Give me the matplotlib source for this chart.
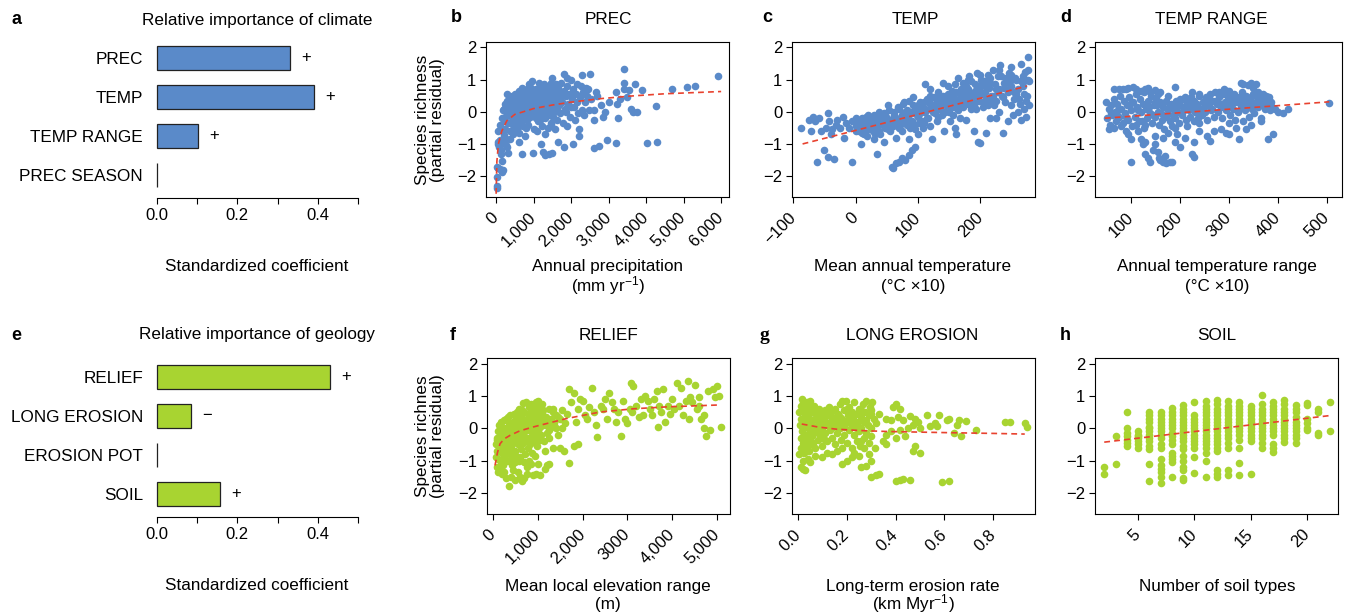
import matplotlib
matplotlib.use("Agg")
import matplotlib.pyplot as plt

# ------------------------------------------------------------
# data
# ------------------------------------------------------------
climate_vars = ["PREC", "TEMP", "TEMP RANGE", "PREC SEASON"]
climate_coef = [0.33, 0.39, 0.102, 0.0]
climate_sign = ["+", "+", "+", ""]

geology_vars = ["RELIEF", "LONG EROSION", "EROSION POT", "SOIL"]
geology_coef = [0.43, 0.084, 0.0, 0.157]
geology_sign = ["+", "\u2212", "", "+"]

# b: annual precipitation (mm/yr) vs partial residual
prec_pts = [
    (10, -2.38), (15, -2.3), (25, -2.02), (20, -1.72), (60, -1.74), (110, -1.78), (160, -1.86), (190, -1.8),
    (40, -1.0), (60, -0.93), (85, -1.08), (50, -0.6), (95, -0.88), (125, -1.3), (150, -1.52), (135, -1.2),
    (200, -0.98), (250, -1.02), (300, -1.08), (320, -1.27), (265, -0.85), (110, -0.42), (150, -0.2), (180, -0.52),
    (205, -0.72), (235, -0.3), (260, -0.12), (200, 0.1), (230, 0.25), (270, 0.15), (300, 0.32), (170, 0.05),
    (320, -0.35), (340, 0.05), (360, 0.2), (370, -0.6), (400, 0.35), (410, -0.15), (430, 0.1), (440, -0.4),
    (460, 0.25), (470, -0.05), (490, 0.4), (500, -0.3), (520, 0.15), (530, -0.5), (540, 0.3), (560, 0.0),
    (580, 0.45), (590, -0.2), (600, 0.2), (610, -0.65), (620, -0.95), (680, -1.32), (630, 0.35), (640, 0.05),
    (660, -0.3), (670, 0.55), (690, 0.15), (700, -0.1), (710, 0.4), (720, -0.45), (740, 0.25), (750, 0.6),
    (760, -0.05), (770, -0.75), (790, 0.45), (800, 0.1), (810, -0.25), (820, 0.7), (840, 0.3), (850, -0.4),
    (860, 0.55), (870, 0.0), (890, 0.2), (900, -0.15), (910, 0.45), (920, 0.75), (940, 0.05), (950, 0.35),
    (960, 0.95), (970, 0.6), (980, -1.27), (990, 0.25), (1000, -0.05), (1010, 0.5), (1020, -0.55), (1040, 0.15),
    (1050, 0.7), (1060, -0.2), (1070, 0.4), (1090, 0.0), (1100, 0.3), (1110, 0.55), (1120, -0.3), (1140, 0.2),
    (1150, 0.45), (1160, -0.1), (1170, 0.8), (1190, 0.1), (1200, -1.0), (1200, 0.35), (1210, -0.45), (1220, 0.6),
    (1240, 0.25), (1250, -1.25), (1250, -0.05), (1260, 0.5), (1270, 0.85), (1290, 0.15), (1300, -1.33), (1300, 0.4),
    (1310, -0.2), (1320, 0.65), (1340, 0.3), (1350, 0.0), (1360, 0.55), (1370, -0.5), (1390, 0.2), (1400, -1.3),
    (1400, 0.75), (1410, -0.1), (1420, 0.45), (1440, 0.35), (1450, 0.9), (1460, 0.05), (1470, -0.35), (1480, 1.05),
    (1490, 0.6), (1500, -1.28), (1500, 0.25), (1510, -0.15), (1520, 0.8), (1540, 0.4), (1550, 0.0), (1560, 0.65),
    (1570, -0.55), (1590, 0.3), (1600, 0.85), (1610, 0.1), (1620, -0.25), (1640, 0.5), (1650, -0.95), (1660, 0.75),
    (1680, 0.2), (1700, -0.05), (1720, 0.45), (1740, 0.9), (1760, 0.3), (1780, -0.35), (1800, 0.65), (1800, -1.1),
    (1820, 1.18), (1840, 0.1), (1860, 0.5), (1880, -0.45), (1900, 0.8), (1920, 0.25), (1950, 0.55), (1980, -0.15),
    (2000, 1.0), (2020, 0.4), (2050, -1.0), (2050, 0.7), (2080, 0.15), (2100, -0.25), (2120, 0.55), (2150, 0.85),
    (2170, -0.05), (2200, -0.55), (2210, -0.75), (2230, 0.45), (2250, 0.8), (2280, 0.05), (2300, 1.15), (2320, 0.6),
    (2350, -0.1), (2380, 0.3), (2400, 0.75), (2420, 0.5), (2450, 0.7), (2480, 0.05), (2500, 1.17), (2520, 0.4),
    (2600, -1.13), (2600, -0.25), (2620, 0.05), (2650, 0.6), (2700, 0.5), (2750, -1.05), (2800, 0.2), (2850, -0.15),
    (2900, 0.0), (2950, -0.88), (3000, 0.3), (3200, -0.98), (3200, 0.6), (3220, 0.25), (3260, -0.2), (3300, 0.4),
    (3400, 1.32), (3400, 0.88), (3420, 0.7), (3500, 0.45), (3550, 0.68), (3600, 0.1), (3650, 0.0), (3700, 0.85),
    (3750, 0.0), (3900, 0.67), (4030, -0.96), (4250, 0.18), (4300, -0.94), (4700, 0.72), (5100, 0.78), (5300, 0.8),
    (5920, 1.12), (420, 0.5), (550, 0.55), (880, 0.85), (1130, 0.9), (700, 0.75), (380, -0.85), (450, -0.7),
    (230, -0.55), (280, 0.05), (330, -0.05), (350, 0.4), (390, 0.0), (420, -0.3), (480, 0.15), (510, 0.55),
    (570, 0.25), (600, -0.45), (650, 0.5), (680, 0.2), (730, 0.05), (780, 0.35), (830, -0.15), (880, 0.5),
    (930, 0.2), (980, 0.45), (1030, 0.05), (1080, 0.25), (1130, 0.45), (1180, -0.25), (1230, 0.15), (1280, 0.6),
    (1330, 0.1), (1380, 0.35), (1430, 0.6), (1480, 0.15), (1530, 0.45), (1580, 0.1), (1630, 0.35), (1690, 0.55),
    (300, 0.55), (600, 0.65), (900, 0.6), (1200, 0.7), (500, -0.6), (800, -0.5), (1100, -0.6), (1300, -0.7),
    (1450, -0.4), (1700, 0.35), (1850, 0.0), (2000, 0.15), (2150, 0.3), (1900, 1.05), (1750, 0.6),
]
prec_fit_x = [0, 20, 60, 150, 285, 500, 1000, 1500, 2000, 2800, 3600, 4500, 6000]
prec_fit_y = [-2.55, -1.55, -1.0, -0.6, -0.28, -0.08, 0.1, 0.21, 0.3, 0.41, 0.49, 0.56, 0.63]

# c: mean annual temperature (degC x10)
temp_pts = [
    (-88, -0.5), (-75, -0.25), (-72, -0.6), (-68, -0.15), (-65, -0.3), (-62, -1.55), (-58, -0.2), (-55, -0.6),
    (-50, -1.2), (-48, -0.5), (-45, -0.05), (-44, -1.4), (-42, -0.3), (-40, -0.7), (-38, -0.55), (-35, -1.48),
    (-32, -0.4), (-30, -0.25), (-25, -0.5), (-20, -0.15), (-18, -0.8), (-15, -0.35), (-10, -0.5), (-5, -1.55),
    (-5, -0.3), (0, -0.2), (0, -0.6), (5, -0.4), (8, -1.0), (10, -0.2), (12, -0.55), (15, -0.35), (18, -0.75),
    (20, -0.1), (22, -0.45), (25, -0.25), (28, -0.6), (30, -0.85), (32, -0.15), (34, -1.3), (35, -0.4), (38, 0.0),
    (40, -0.7), (42, -0.3), (45, -0.95), (48, -0.5), (50, -0.2), (52, 0.2), (55, -0.6), (58, -0.35), (58, -1.72),
    (60, -1.75), (62, -0.1), (65, -0.8), (65, -1.6), (68, -0.45), (70, 0.1), (70, -1.55), (72, -0.25), (75, -0.6),
    (75, -1.45), (78, 0.3), (80, -0.15), (80, -1.5), (82, -0.4), (85, -0.85), (85, -1.35), (88, 0.0), (90, -0.3),
    (90, -1.2), (92, 0.45), (95, -0.55), (95, -1.1), (98, -0.1), (100, 0.2), (100, -0.7), (102, -0.35), (105, 0.0),
    (108, -0.5), (110, 0.3), (112, 0.85), (115, -0.2), (118, 0.1), (120, -0.45), (120, 0.5), (122, -0.85), (125, 0.0),
    (128, 0.25), (130, -0.3), (132, 0.6), (135, 0.1), (138, -0.1), (140, 0.35), (142, -0.6), (145, 0.2), (148, 0.8),
    (150, 0.0), (150, 0.45), (152, -0.3), (155, 0.65), (158, 0.15), (160, -0.5), (160, 0.4), (162, -0.7), (165, 1.05),
    (165, 0.2), (168, -0.2), (170, 0.55), (172, 0.9), (175, 0.3), (178, -0.25), (180, 0.7), (182, 1.1), (185, 0.1),
    (188, 0.5), (190, -0.6), (192, 0.85), (195, 1.2), (196, -0.95), (198, 0.35), (200, -0.97), (200, 0.6), (202, 1.0),
    (205, 0.15), (208, 0.8), (210, -0.65), (210, 0.4), (212, 1.15), (215, 0.9), (215, -0.2), (218, 0.5), (220, 1.3),
    (222, 0.2), (225, 0.7), (226, -0.2), (228, 1.1), (230, 0.0), (232, 1.45), (235, 0.5), (236, -0.65), (238, 0.9),
    (240, 0.3), (242, 1.05), (245, -0.3), (248, 0.75), (250, 0.2), (250, 1.15), (252, -0.1), (255, 0.6), (258, 1.0),
    (260, 0.0), (262, 0.4), (265, 1.5), (266, -0.25), (268, 0.8), (270, 0.1), (272, 1.0), (273, -0.15), (275, 0.5),
    (276, 1.7), (277, 1.3), (278, 0.95),
    (0, -0.45), (4, -0.3), (6, -0.6), (10, -0.5), (12, -0.25), (14, -0.7), (18, -0.4), (20, -0.55), (22, -0.2),
    (26, -0.35), (28, -0.5), (30, -0.1), (34, -0.45), (36, -0.25), (38, -0.6), (42, -0.15), (44, -0.4), (46, -0.05),
    (50, -0.35), (52, -0.55), (54, 0.05), (58, -0.25), (60, -0.45), (62, 0.0), (66, -0.3), (68, 0.15), (70, -0.5),
    (74, -0.1), (76, 0.25), (78, -0.35), (82, 0.05), (84, -0.2), (86, 0.35), (90, -0.05), (92, 0.2), (94, -0.4),
    (98, 0.1), (100, -0.15), (104, 0.3), (106, -0.3), (108, 0.15), (112, 0.0), (114, 0.4), (116, -0.2), (120, 0.25),
    (124, 0.05), (126, 0.45), (130, 0.1), (132, -0.15), (134, 0.35), (138, 0.2), (140, 0.5), (144, 0.0), (146, 0.3),
    (148, 0.55), (152, 0.15), (154, 0.4), (156, -0.1), (160, 0.25), (162, 0.6), (164, 0.05), (168, 0.35), (170, 0.7),
    (172, 0.15), (176, 0.45), (178, 0.8), (180, 0.25), (184, 0.55), (186, 0.95), (188, 0.3), (192, 0.65), (194, 0.1),
    (196, 0.45), (200, 0.8), (204, 0.3), (206, 0.95), (208, 0.6), (212, 0.2), (214, 0.75), (216, 1.05), (220, 0.5),
    (224, 0.85), (226, 0.35), (230, 0.7), (234, 1.1), (236, 0.45), (240, 0.9), (244, 0.6), (246, 1.2), (250, 0.8),
    (254, 0.4), (256, 1.05), (260, 0.7), (264, 0.25), (266, 0.95), (270, 0.55), (272, 1.25), (274, 0.35), (276, 1.0),
    (10, -0.65), (16, -0.15), (24, -0.45), (32, -0.7), (40, -0.3), (48, -0.1), (56, -0.55), (64, -0.15), (72, -0.4),
    (80, 0.0), (88, -0.5), (96, 0.05), (104, -0.05), (110, -0.35), (118, 0.35), (122, 0.15), (128, -0.05),
    (136, 0.5), (142, 0.25), (150, 0.3), (158, 0.55), (166, 0.4), (174, 0.6), (182, 0.45), (190, 0.2), (198, 0.7),
    (204, 0.55), (210, 0.95), (218, 0.35), (228, 0.6), (238, 0.75), (248, 0.95), (258, 0.55), (268, 1.1), (278, 0.2),
    (140, 0.9), (160, 0.85), (180, 1.0), (200, 1.15), (230, 1.3), (250, 1.4), (120, 0.7),
]
temp_fit_x = [-85, 0, 100, 200, 275]
temp_fit_y = [-1.0, -0.58, -0.08, 0.42, 0.8]

# d: annual temperature range (degC x10)
range_pts = [
    (65, 0.72), (75, 0.7), (85, 0.72), (90, 0.7), (95, 0.75), (105, 0.78), (110, 0.7), (120, 0.65), (130, 0.72),
    (135, 0.75), (140, 0.6), (150, 0.68), (155, 0.55), (160, 0.62), (175, 0.5), (190, 0.78), (210, 0.45), (225, 0.6),
    (240, 0.55), (260, 0.5), (280, 0.6), (290, 0.7), (300, 0.65), (310, 0.5), (325, 0.9), (330, 0.85), (340, 0.82),
    (345, 0.9), (350, 0.75), (355, 0.85), (360, 0.6), (370, 0.55), (375, 0.5), (380, 0.45),
    (55, -0.55), (65, -0.5), (80, -0.45), (90, -0.6), (95, -0.7), (100, -0.85), (100, -1.57), (110, -0.4),
    (115, -0.6), (120, -0.85), (125, -1.0), (130, -0.95), (130, -1.3), (135, -1.45), (140, -1.57), (145, -1.2),
    (150, -0.75), (150, -1.0), (155, -1.25), (158, -1.45), (160, -1.5), (165, -1.55), (170, -1.38), (172, -1.6),
    (180, -1.55), (185, -1.55), (165, -0.8), (175, -0.65), (190, -0.95), (195, -0.7), (200, -1.1), (210, -0.8),
    (215, -0.45), (225, -1.3), (228, -1.4), (230, -0.95), (240, -0.6), (255, -0.75), (262, -0.9), (270, -0.6),
    (285, -0.55), (295, -0.65), (300, -0.7), (315, -0.5), (320, -0.85), (335, -0.55), (345, -0.4), (365, -0.3),
    (380, -0.85), (390, -0.7), (395, 0.1), (400, 0.0), (410, -0.05), (420, 0.1), (505, 0.28),
    (50, 0.3), (52, -0.2), (55, 0.1), (58, -0.4), (60, 0.2), (62, -0.1), (66, 0.4), (68, 0.0), (70, -0.3),
    (72, 0.25), (76, -0.15), (78, 0.5), (80, 0.1), (84, -0.35), (86, 0.35), (88, -0.05), (92, 0.2), (94, -0.25),
    (96, 0.45), (100, 0.05), (102, -0.45), (104, 0.3), (108, -0.15), (110, 0.55), (112, 0.15), (116, -0.3),
    (118, 0.4), (120, 0.0), (124, 0.25), (126, -0.5), (128, 0.6), (132, 0.1), (134, -0.2), (136, 0.35), (140, -0.05),
    (142, 0.5), (144, -0.35), (148, 0.2), (150, -0.15), (152, 0.4), (156, 0.0), (158, -0.4), (160, 0.3), (164, -0.25),
    (166, 0.15), (168, -0.55), (172, 0.35), (174, -0.1), (176, 0.05), (180, -0.3), (182, 0.25), (184, -0.45),
    (188, 0.1), (190, -0.2), (192, 0.35), (196, 0.0), (198, -0.35), (200, 0.2), (204, -0.1), (206, 0.4), (208, 0.05),
    (212, -0.25), (214, 0.3), (216, 0.1), (220, -0.15), (222, 0.45), (224, 0.2), (228, -0.3), (230, 0.35), (232, 0.0),
    (236, 0.25), (238, -0.2), (240, 0.5), (244, 0.1), (246, -0.1), (248, 0.3), (252, 0.0), (254, 0.45), (256, -0.25),
    (260, 0.2), (262, 0.55), (264, 0.05), (268, 0.35), (270, -0.15), (272, 0.6), (276, 0.25), (278, 0.0), (280, 0.45),
    (284, 0.15), (286, -0.2), (288, 0.55), (292, 0.3), (294, 0.05), (296, 0.65), (300, 0.2), (302, -0.1), (304, 0.4),
    (308, 0.1), (310, 0.55), (312, -0.25), (316, 0.3), (318, 0.0), (320, 0.45), (324, 0.15), (326, 0.6), (328, -0.3),
    (332, 0.35), (334, 0.05), (336, 0.5), (340, 0.2), (342, -0.15), (344, 0.4), (348, 0.1), (350, 0.55), (352, -0.05),
    (356, 0.3), (358, 0.45), (360, 0.15), (364, 0.4), (366, -0.2), (368, 0.25), (372, 0.5), (374, 0.1), (376, 0.35),
    (380, 0.2), (382, 0.45), (386, 0.3), (388, 0.15),
    (60, -0.05), (74, 0.05), (90, -0.15), (98, 0.25), (114, 0.05), (122, -0.3), (138, 0.15), (146, -0.1),
    (154, 0.2), (162, -0.05), (170, -0.15), (178, 0.15), (186, -0.1), (194, 0.15), (202, -0.05), (210, 0.15),
    (218, 0.05), (226, 0.1), (234, 0.15), (242, -0.05), (250, 0.15), (258, 0.3), (266, 0.1), (274, 0.35),
    (282, 0.25), (290, 0.15), (298, 0.45), (306, 0.25), (314, 0.35), (322, 0.3), (330, 0.2), (338, 0.45),
    (346, 0.3), (354, 0.2), (362, 0.3), (370, 0.4), (378, 0.3), (384, 0.05), (150, 0.3), (200, 0.4), (250, 0.35),
    (130, -0.4), (190, -0.5), (240, -0.35), (300, -0.35),
]
range_fit_x = [47, 200, 300, 400, 505]
range_fit_y = [-0.2, -0.03, 0.08, 0.19, 0.31]

# f: mean local elevation range (m)
relief_pts = [
    (150, -1.2), (200, -1.4), (220, -1.15), (250, -1.35), (300, -1.55), (350, -1.78), (400, -1.5), (450, -1.3),
    (500, -1.6), (550, -1.35), (600, -1.5), (650, -1.62), (700, -1.55), (750, -1.4), (800, -1.0), (850, -1.1),
    (900, -1.45), (950, -1.4), (1000, -1.1), (1050, -1.45), (1150, -1.25), (1200, -1.15), (1250, -1.1), (1500, -0.6),
    (1580, -0.7), (1700, -1.08), (1800, -0.55), (1900, -0.5),
    (1300, 0.2), (1350, 0.5), (1400, 0.0), (1450, -0.2), (1500, 0.3), (1550, 0.55), (1600, 0.15), (1650, 0.45),
    (1700, 1.2), (1750, 0.8), (1800, 1.1), (1850, 0.2), (1900, 0.6), (1950, 0.9), (2000, 0.85), (2050, 0.4),
    (2100, 0.3), (2150, 0.65), (2200, 1.25), (2250, 0.5), (2300, 0.1), (2320, -0.27), (2400, 0.7), (2450, 0.6),
    (2500, 0.9), (2550, 0.3), (2600, 1.1), (2650, 0.8), (2700, 0.6), (2750, 0.2), (2800, 0.5), (2850, -0.25),
    (2900, 0.85), (2950, 0.3), (3000, 0.15), (3050, 0.6), (3080, 1.4), (3100, 0.5), (3120, 1.3), (3200, 0.7),
    (3250, 0.35), (3300, 0.9), (3350, 0.4), (3400, 1.0), (3450, 0.85), (3500, 0.6), (3550, 0.4), (3600, 0.9),
    (3650, 1.15), (3680, 0.05), (3700, 0.7), (3750, 0.5), (3800, 1.2), (3850, 0.2), (3900, 0.7), (3950, 0.45),
    (4000, 0.9), (4050, 0.6), (4100, 1.4), (4150, 0.7), (4200, 1.25), (4250, 0.4), (4300, 0.85), (4350, 1.45),
    (4380, 0.3), (4400, 0.95), (4450, 0.8), (4500, 1.35), (4550, 0.6), (4600, 0.95), (4650, 0.3), (4700, 0.0),
    (4750, -0.25), (4800, 1.15), (4850, -0.05), (4900, 1.2), (4950, 0.95), (5000, 1.3), (5050, 1.0), (5080, 0.05),
    (4700, 0.4), (4600, 0.7),
    (60, -0.9), (70, -0.5), (80, -1.2), (90, -0.3), (100, -0.7), (110, -0.1), (120, -0.95), (130, -0.45),
    (140, 0.1), (150, -0.6), (160, -0.25), (170, -1.05), (180, 0.2), (190, -0.4), (200, -0.75), (210, 0.05),
    (220, -0.2), (230, -0.55), (240, 0.25), (250, -0.9), (260, -0.05), (270, -0.35), (280, 0.3), (290, -0.65),
    (300, 0.0), (310, -0.3), (320, -1.0), (330, 0.35), (340, -0.15), (350, -0.5), (360, 0.15), (370, -0.8),
    (380, -0.25), (390, 0.4), (400, -0.6), (410, 0.05), (420, -0.35), (430, -1.15), (440, 0.2), (450, -0.45),
    (460, 0.45), (470, -0.1), (480, -0.7), (490, 0.1), (500, -0.3), (510, 0.35), (520, -0.85), (530, -0.05),
    (540, 0.5), (550, -0.5), (560, 0.2), (570, -0.2), (580, -1.0), (590, 0.6), (600, -0.35), (610, 0.0),
    (620, 0.35), (630, -0.65), (640, -0.15), (650, 0.25), (660, 0.78), (670, -0.45), (680, 0.1), (690, -0.25),
    (700, 0.5), (710, -0.8), (720, 0.15), (730, 0.8), (740, -0.35), (750, 0.3), (760, -0.05), (770, -0.6),
    (780, 0.45), (790, 0.0), (800, -0.3), (810, 0.65), (820, 0.2), (830, -0.5), (840, -0.1), (850, 0.4),
    (860, 0.7), (870, -0.75), (880, 0.1), (890, -0.2), (900, 0.55), (910, -0.4), (920, 0.25), (930, 0.0),
    (940, 0.6), (950, -0.25), (960, 0.35), (970, 0.8), (980, -0.55), (990, 0.15), (1000, 0.5), (1010, -0.1),
    (1020, 0.3), (1030, 0.7), (1040, -0.35), (1050, 0.05), (1060, 0.4), (1080, -0.2), (1100, 0.2), (1120, 0.55),
    (1140, -0.4), (1160, 0.1), (1180, 0.35), (1200, -0.15), (1220, 0.25), (1240, 0.6), (1260, -0.3), (1280, 0.0),
    (1300, 0.3), (1330, -0.6), (1360, 0.15), (1400, 0.4), (1000, 0.85), (1100, 0.75), (180, -0.6), (240, -0.45),
    (330, -0.7), (420, -0.95), (600, -0.9), (760, -1.2), (940, -0.85), (1160, -0.7), (280, -0.1), (520, 0.05),
    (100, -0.35), (150, -0.05), (200, -0.3), (250, -0.15), (300, -0.45), (350, 0.0), (400, -0.2), (450, 0.05),
    (500, -0.15), (550, 0.1), (600, 0.05), (650, -0.3), (700, -0.05), (750, 0.1), (800, 0.15), (850, -0.1),
    (900, 0.2), (950, 0.05), (400, -0.95), (500, -1.05), (700, -1.05), (300, -0.8), (250, -0.6), (120, -1.35),
    (650, 0.55), (850, 0.75), (1100, 0.45), (1200, 0.1), (1250, -0.05), (1350, 0.6), (1450, 0.35), (1550, 0.0),
]
relief_fit_x = [45, 100, 156, 250, 380, 600, 900, 1300, 1645, 2390, 3125, 3877, 5070]
relief_fit_y = [-1.15, -0.75, -0.48, -0.33, -0.22, -0.08, 0.04, 0.18, 0.3, 0.5, 0.6, 0.66, 0.72]

# g: long-term erosion rate (km/Myr)
erosion_pts = [
    (0.01, -1.2), (0.02, -1.25), (0.03, -1.3), (0.02, -1.0), (0.04, -0.95), (0.05, -1.05), (0.07, -0.85),
    (0.1, -0.9), (0.12, -0.75), (0.14, -0.8), (0.18, -1.1), (0.2, -1.0), (0.22, -0.9), (0.25, -0.85), (0.26, -1.2),
    (0.28, -1.18), (0.29, -0.8), (0.3, -1.0), (0.3, -1.5), (0.32, -1.45), (0.33, -1.4), (0.35, -0.4), (0.36, -0.5),
    (0.4, -1.62), (0.42, -1.6), (0.43, -1.57), (0.46, -1.6), (0.59, -1.65), (0.62, -1.62), (0.47, -0.7),
    (0.48, -0.55), (0.5, -0.75),
    (0.33, 0.45), (0.36, 0.3), (0.38, 0.25), (0.39, 0.65), (0.4, 0.75), (0.41, 0.35), (0.42, 0.6), (0.43, 0.25),
    (0.45, 0.0), (0.46, 0.38), (0.47, 0.1), (0.48, 0.3), (0.49, 0.2), (0.5, 0.0), (0.53, 0.42), (0.54, 0.08),
    (0.56, 0.15), (0.57, 0.06), (0.58, 0.4), (0.61, 0.25), (0.62, 0.3), (0.64, -0.15), (0.65, 0.1), (0.66, 0.25),
    (0.67, -0.25), (0.69, 0.22), (0.73, -0.05), (0.85, 0.18), (0.87, 0.2), (0.93, 0.15), (0.94, 0.03), (0.38, -0.1),
    (0.4, -0.3), (0.42, -0.05), (0.44, -0.25), (0.36, -0.2),
    (0.005, 0.5), (0.008, 0.1), (0.01, -0.3), (0.01, 0.7), (0.012, -0.6), (0.015, 0.3), (0.015, -0.1), (0.018, 0.9),
    (0.02, 0.0), (0.02, -0.45), (0.022, 0.55), (0.025, 0.2), (0.025, -0.75), (0.028, -0.2), (0.03, 0.65), (0.03, 0.4),
    (0.032, 0.05), (0.035, -0.35), (0.035, 0.8), (0.038, 0.25), (0.04, -0.55), (0.04, 0.45), (0.042, 0.1),
    (0.045, -0.15), (0.045, 0.6), (0.048, 0.3), (0.05, -0.4), (0.05, 0.85), (0.055, 0.15), (0.058, -0.25),
    (0.06, 0.5), (0.062, 0.0), (0.065, 0.7), (0.068, -0.6), (0.07, 0.3), (0.072, -0.1), (0.075, 0.45), (0.08, 0.1),
    (0.082, -0.35), (0.085, 0.6), (0.09, 0.2), (0.092, -0.2), (0.095, 0.4), (0.1, 0.0), (0.1, -0.55), (0.105, 0.3),
    (0.11, 0.55), (0.112, -0.15), (0.115, 0.1), (0.12, 0.4), (0.12, -0.4), (0.125, 0.65), (0.13, 0.2),
    (0.132, -0.05), (0.135, 0.5), (0.14, -0.3), (0.14, 0.35), (0.145, 0.05), (0.15, 0.6), (0.15, -0.5),
    (0.155, 0.25), (0.16, -0.15), (0.165, 0.45), (0.17, 0.0), (0.17, 0.75), (0.175, -0.35), (0.18, 0.3),
    (0.18, 0.85), (0.185, 0.1), (0.19, -0.2), (0.19, 0.55), (0.195, 0.85), (0.2, 0.2), (0.2, -0.45), (0.205, 0.4),
    (0.21, -0.05), (0.21, 0.65), (0.215, 0.15), (0.22, -0.6), (0.22, 0.5), (0.225, 0.3), (0.23, -0.2), (0.23, 0.8),
    (0.235, 0.05), (0.24, -0.4), (0.24, 0.45), (0.245, 0.2), (0.25, -0.1), (0.25, 0.6), (0.255, -0.55),
    (0.26, 0.35), (0.26, 0.0), (0.265, 0.75), (0.27, -0.3), (0.27, 0.2), (0.275, 0.5), (0.28, -0.15), (0.28, 0.85),
    (0.285, 0.1), (0.29, -0.45), (0.29, 0.4), (0.295, 0.65), (0.3, 0.0), (0.3, -0.25), (0.305, 0.8), (0.31, 0.3),
    (0.315, -0.6), (0.32, 0.15), (0.005, -0.8), (0.015, 0.6), (0.025, -0.5), (0.035, 0.15), (0.045, -0.7),
    (0.06, -0.45), (0.08, 0.35), (0.11, -0.35), (0.16, 0.15), (0.21, 0.3), (0.26, -0.4), (0.3, 0.45),
    (0.01, 0.3), (0.02, 0.8), (0.03, -0.55), (0.04, 0.7), (0.05, 0.0), (0.06, 0.25), (0.07, 0.55), (0.08, -0.15),
    (0.09, 0.45), (0.1, 0.25), (0.12, 0.1), (0.13, 0.45), (0.15, 0.1), (0.17, 0.35), (0.19, 0.05), (0.2, 0.6),
    (0.22, 0.1), (0.24, 0.0), (0.26, 0.55), (0.28, 0.25), (0.3, 0.55), (0.18, -0.6), (0.23, -0.75), (0.27, -0.6),
    (0.16, -0.7),
]
erosion_fit_x = [0.015, 0.08, 0.158, 0.25, 0.363, 0.5, 0.637, 0.8, 0.93]
erosion_fit_y = [0.13, 0.04, -0.03, -0.07, -0.1, -0.12, -0.14, -0.16, -0.18]

# h: number of soil types (one column of residuals per type count)
soil_types = [2, 3, 4, 5, 6, 7, 8, 9, 10, 11, 12, 13, 14, 15, 16, 17, 18, 19, 20, 21, 22]
soil_resid = [
    [-1.2, -1.4],
    [-0.23, -1.12],
    [0.5, 0.0, -0.15, -0.25, -0.35, -0.45, -0.55],
    [-0.1, -0.2, -0.3, -0.4, -0.5, -0.6, -0.25],
    [0.5, 0.4, 0.3, 0.2, 0.05, 0.0, -0.1, -0.2, -0.3, -0.4, -0.55, -0.65, -1.12, -1.62],
    [0.5, 0.4, 0.3, 0.2, 0.1, 0.0, -0.1, -0.2, -0.3, -0.5, -0.6, -0.95, -1.15, -1.25, -1.35, -1.5, -1.68],
    [0.62, 0.5, 0.4, 0.3, 0.2, 0.1, 0.0, -0.15, -0.25, -0.35, -0.5, -0.75, -0.85, -0.95, -1.05, -1.52],
    [0.72, 0.6, 0.5, 0.4, 0.3, 0.2, 0.1, 0.0, -0.1, -0.2, -0.3, -0.4, -0.55, -0.65, -0.85, -1.0, -1.2, -1.3,
     -1.55, -1.6],
    [0.8, 0.4, 0.3, 0.2, 0.1, 0.0, -0.1, -0.2, -0.3, -0.4, -0.5, -0.6, -0.9, -1.38],
    [0.85, 0.7, 0.6, 0.5, 0.4, 0.3, 0.2, 0.1, 0.0, -0.1, -0.2, -0.3, -0.4, -0.5, -0.6, -0.75, -1.0, -1.5],
    [0.88, 0.75, 0.6, 0.5, 0.4, 0.3, 0.2, 0.1, 0.0, -0.1, -0.2, -0.3, -0.4, -0.5, -0.6, -0.7, -1.3, -1.4, -1.5],
    [0.85, 0.7, 0.6, 0.5, 0.4, 0.3, 0.2, 0.1, 0.0, -0.1, -0.2, -0.3, -0.45, -0.6, -1.3, -1.45],
    [0.8, 0.7, 0.6, 0.5, 0.4, 0.3, 0.2, 0.1, 0.0, -0.1, -0.2, -0.35, -0.6, -1.07, -1.45],
    [0.7, 0.6, 0.5, 0.4, 0.3, 0.2, 0.1, 0.0, -0.1, -0.2, -0.3, -0.4, -1.42],
    [1.02, 0.75, 0.6, 0.5, 0.4, 0.3, 0.2, 0.1, 0.0, -0.1, -0.2, -0.3, -0.45, -0.6],
    [0.8, 0.7, 0.6, 0.5, 0.4, 0.3, 0.2, 0.1, 0.0, -0.1, -0.2, -0.5, -0.6, -0.72],
    [0.88, 0.75, 0.6, 0.5, 0.4, 0.3, 0.2, 0.1, 0.0, -0.1, -0.2, -0.3, -0.42],
    [0.72, 0.6, 0.5, 0.35, 0.2, 0.1, 0.0, -0.1, -0.2, -0.3, -0.45],
    [0.78, 0.72, 0.3, 0.15, 0.0, -0.05],
    [0.58, 0.5, -0.15, -0.2],
    [0.8, -0.1],
]
soil_fit_x = [2, 22]
soil_fit_y = [-0.43, 0.39]

# ------------------------------------------------------------
# styling
# ------------------------------------------------------------
plt.rcParams["font.family"] = ["Liberation Sans", "DejaVu Sans"]
plt.rcParams["mathtext.fontset"] = "custom"
plt.rcParams["mathtext.rm"] = "Liberation Sans"
plt.rcParams["mathtext.it"] = "Liberation Sans:italic"
plt.rcParams["mathtext.bf"] = "Liberation Sans:bold"
plt.rcParams["axes.linewidth"] = 0.8

BLUE = "#5A8AC9"
GREEN = "#A8D431"
RED = "#E8422F"
W, H = 1346, 615

fig = plt.figure(figsize=(W / 100, H / 100), dpi=100)


def box(l, t, r, b):
    return [l / W, 1 - b / H, (r - l) / W, (b - t) / H]


def ftext(x, y, s, **kw):
    kw.setdefault("ha", "center")
    kw.setdefault("va", "center")
    kw.setdefault("fontsize", 12.3)
    fig.text(x / W, 1 - y / H, s, **kw)


def bar_panel(rect, names, coefs, signs, color):
    ax = fig.add_axes(rect)
    pos = list(range(len(names)))
    ax.barh(pos, coefs, height=0.62, color=color, edgecolor="#222222", linewidth=0.9, clip_on=False)
    for p, c, s in zip(pos, coefs, signs):
        if s:
            ax.text(c + 0.04, p, s, ha="center", va="center", fontsize=12)
    ax.set_ylim(3.59, -0.51)
    ax.set_xlim(0, 0.5)
    ax.set_yticks(pos)
    ax.set_yticklabels(names, fontsize=12.3)
    ax.tick_params(axis="y", length=0, pad=10)
    ax.set_xticks([0, 0.1, 0.2, 0.3, 0.4, 0.5])
    ax.set_xticklabels(["0.0", "", "0.2", "", "0.4", ""], fontsize=12)
    ax.tick_params(axis="x", length=4.5, width=0.8, pad=3)
    for side in ["top", "right", "left"]:
        ax.spines[side].set_visible(False)
    return ax


def scatter_panel(rect, pts, fit_x, fit_y, color, xlim, xticks, xlabels):
    ax = fig.add_axes(rect)
    xs = [p[0] for p in pts]
    ys = [p[1] for p in pts]
    ax.scatter(xs, ys, s=30, color=color, linewidths=0, zorder=2)
    ax.plot(fit_x, fit_y, color=RED, lw=1.2, ls=(0, (3.5, 2.5)), zorder=3)
    ax.set_xlim(*xlim)
    ax.set_ylim(-2.65, 2.17)
    ax.set_yticks([-2, -1, 0, 1, 2])
    ax.set_xticks(xticks)
    ax.set_xticklabels(xlabels, rotation=45, ha="right", va="center", rotation_mode="anchor", fontsize=12)
    ax.tick_params(axis="both", length=4, width=0.8, labelsize=12)
    ax.tick_params(axis="x", pad=9)
    ax.tick_params(axis="y", pad=3)
    return ax


# a / e : bar charts
bar_panel(box(157, 38, 358, 198), climate_vars, climate_coef, climate_sign, BLUE)
bar_panel(box(157, 357, 358, 517), geology_vars, geology_coef, geology_sign, GREEN)

# b, c, d
scatter_panel(box(486, 42, 729, 197), prec_pts, prec_fit_x, prec_fit_y, BLUE,
              (-270, 6210), [0, 1000, 2000, 3000, 4000, 5000, 6000],
              ["0", "1,000", "2,000", "3,000", "4,000", "5,000", "6,000"])
scatter_panel(box(792, 42, 1035, 197), temp_pts, temp_fit_x, temp_fit_y, BLUE,
              (-102, 288), [-100, 0, 100, 200], ["\u2212100", "0", "100", "200"])
scatter_panel(box(1095, 42, 1342, 197), range_pts, range_fit_x, range_fit_y, BLUE,
              (27, 531), [100, 200, 300, 400, 500], ["100", "200", "300", "400", "500"])

# f, g, h
scatter_panel(box(487, 358, 730, 514), relief_pts, relief_fit_x, relief_fit_y, GREEN,
              (-134, 5290), [0, 1000, 2000, 3000, 4000, 5000],
              ["0", "1,000", "2,000", "3000", "4,000", "5,000"])
scatter_panel(box(792, 358, 1035, 514), erosion_pts, erosion_fit_x, erosion_fit_y, GREEN,
              (-0.025, 0.972), [0, 0.2, 0.4, 0.6, 0.8], ["0.0", "0.2", "0.4", "0.6", "0.8"])
soil_pts = [(n, r) for n, col in zip(soil_types, soil_resid) for r in col]
scatter_panel(box(1095, 358, 1338, 514), soil_pts, soil_fit_x, soil_fit_y, GREEN,
              (1.18, 22.75), [5, 10, 15, 20], ["5", "10", "15", "20"])

# panel letters
for x, y, s in [(16, 20, "a"), (456, 18, "b"), (767, 18, "c"), (1066, 18, "d"),
                (16, 335, "e"), (453, 335, "f"), (1065, 335, "h")]:
    ftext(x, y, s, fontsize=13, fontweight="bold")
ftext(764, 335, "g", fontsize=14, fontweight="bold", family="Liberation Serif")

# titles
ftext(257, 20, "Relative importance of climate")
ftext(608, 20, "PREC")
ftext(915, 20, "TEMP")
ftext(1211, 20, "TEMP RANGE")
ftext(257, 335, "Relative importance of geology")
ftext(608, 335, "RELIEF")
ftext(912, 335, "LONG EROSION")
ftext(1217, 335, "SOIL")

# axis labels
ftext(257, 267, "Standardized coefficient")
ftext(257, 585, "Standardized coefficient")
ftext(430, 120, "Species richness\n(partial residual)", rotation=90, linespacing=1.05)
ftext(430, 436, "Species richnes\n(partial residual)", rotation=90, linespacing=1.05)

ftext(608, 267, "Annual precipitation")
ftext(608, 286, "(mm yr$^{-1}$)")
ftext(913, 267, "Mean annual temperature")
ftext(913, 286, "(\u00b0C \u00d710)")
ftext(1217, 267, "Annual temperature range")
ftext(1217, 286, "(\u00b0C \u00d710)")

ftext(608, 586, "Mean local elevation range")
ftext(608, 604, "(m)")
ftext(913, 586, "Long-term erosion rate")
ftext(913, 604, "(km Myr$^{-1}$)")
ftext(1217, 586, "Number of soil types")

fig.savefig("out.png", dpi=100)
